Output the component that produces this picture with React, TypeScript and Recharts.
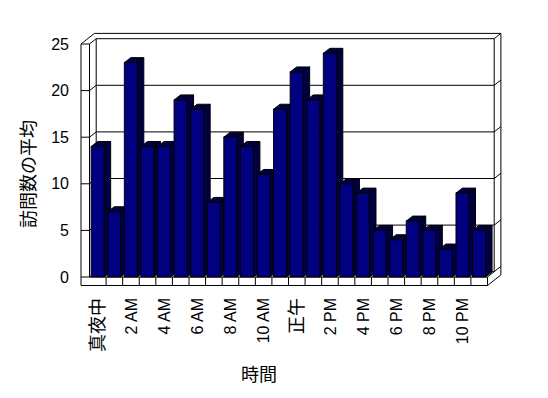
import React from "react";
import { Bar, BarChart, CartesianGrid, XAxis, YAxis } from "recharts";

// hour of day -> average visits
const hours = [
  "真夜中", "1 AM", "2 AM", "3 AM", "4 AM", "5 AM", "6 AM", "7 AM",
  "8 AM", "9 AM", "10 AM", "11 AM", "正午", "1 PM", "2 PM", "3 PM",
  "4 PM", "5 PM", "6 PM", "7 PM", "8 PM", "9 PM", "10 PM", "11 PM",
];
const visits = [14, 7, 23, 14, 14, 19, 18, 8, 15, 14, 11, 18, 22, 19, 24, 10, 9, 5, 4, 6, 5, 3, 9, 5];
const yTicks = [0, 5, 10, 15, 20, 25];

const data = hours.map((h, i) => ({ hour: h, visits: visits[i] }));

// layout of the front plane
const W = 548;
const H = 398;
const LEFT = 89.5;
const TOP = 44;
const RIGHT = 487.5;
const BOTTOM = 277;
const PW = RIGHT - LEFT;
const BAND = PW / hours.length;
const WDX = 6.7; // wall depth
const WDY = 5.3;
const SLAB = 8.5; // wall / floor thickness
const BDX = 6.5; // bar depth
const BDY = 5;

const FONT = '"Liberation Sans", "Noto Sans CJK JP", sans-serif';
const NAVY = "#000080";
const hasCJK = (s: string) => /[\u3000-\u9fff]/.test(s);

function Bar3D(props: any) {
  const { x, y, width: w, height: h } = props;
  if (w == null || h == null) return null;
  return (
    <g stroke="#000" strokeWidth={1}>
      <polygon
        points={`${x + w},${y} ${x + w + BDX},${y - BDY} ${x + w + BDX},${y + h - BDY} ${x + w},${y + h}`}
        fill="url(#dither)"
      />
      <polygon
        points={`${x},${y} ${x + BDX},${y - BDY} ${x + w + BDX},${y - BDY} ${x + w},${y}`}
        fill="url(#dither)"
      />
      <rect x={x} y={y} width={w} height={h} fill={NAVY} />
    </g>
  );
}

function GridLine(props: any) {
  const { x1, x2, y1, index } = props;
  const y = y1;
  return (
    <path
      key={`g${index}`}
      d={`M${x1},${y} L${x1 + WDX},${y - WDY} L${x2 + WDX},${y - WDY} L${x2 + 2 * WDX},${y - 2 * WDY}`}
      fill="none"
      stroke="#000"
      strokeWidth={1}
    />
  );
}

function HourTick(props: any) {
  const { x, y, payload, index } = props;
  const label = String(payload.value);
  const cjk = hasCJK(label);
  return (
    <g>
      {index > 0 && (
        <line x1={x - BAND / 2} y1={y} x2={x - BAND / 2} y2={y + SLAB} stroke="#000" />
      )}
      {index % 2 === 0 && (
        <text
          x={x}
          y={y + 21}
          transform={`rotate(-90 ${x} ${y + 21})`}
          textAnchor="end"
          dy="0.36em"
          fontSize={cjk ? 18 : 16}
          fontFamily={FONT}
          fill="#000"
        >
          {label}
        </text>
      )}
    </g>
  );
}

export default function App() {
  const line = { stroke: "#000", strokeWidth: 1 };
  return (
    <div style={{ position: "absolute", left: 0, top: 0, width: W, height: H, background: "#fff" }}>
      <BarChart
        width={W}
        height={H}
        data={data}
        margin={{ top: TOP, right: W - RIGHT, bottom: 0, left: 0 }}
        barCategoryGap="10%"
      >
        <defs>
          <pattern id="dither" width="2" height="2" patternUnits="userSpaceOnUse">
            <rect width="2" height="2" fill="#000" />
            <rect width="1" height="1" fill={NAVY} />
            <rect x="1" y="1" width="1" height="1" fill={NAVY} />
          </pattern>
        </defs>
        {/* back wall edges */}
        <g>
          <line x1={LEFT + WDX} y1={TOP - WDY} x2={LEFT + WDX} y2={BOTTOM - WDY} {...line} />
          <line x1={RIGHT + WDX} y1={TOP - WDY} x2={RIGHT + WDX} y2={BOTTOM - WDY} {...line} />
        </g>
        <CartesianGrid vertical={false} horizontal={(p: any) => <GridLine {...p} />} />
        <XAxis
          dataKey="hour"
          height={H - BOTTOM}
          interval={0}
          tickLine={false}
          tickSize={0}
          tickMargin={0}
          axisLine={{ stroke: "#000" }}
          tick={<HourTick />}
        />
        <YAxis
          width={LEFT}
          domain={[0, 25]}
          ticks={yTicks}
          tickSize={SLAB}
          tickMargin={12}
          axisLine={{ stroke: "#000" }}
          tickLine={{ stroke: "#000" }}
          tick={{ fill: "#000", fontSize: 16, fontFamily: FONT }}
        />
        <Bar dataKey="visits" isAnimationActive={false} shape={<Bar3D />} />
        {/* outer frame: left wall and floor slabs */}
        <g>
          <line x1={LEFT - SLAB} y1={TOP} x2={LEFT - SLAB} y2={BOTTOM + SLAB} {...line} />
          <line x1={LEFT - SLAB} y1={TOP} x2={LEFT - SLAB + 2 * WDX} y2={TOP - 2 * WDY} {...line} />
          <line x1={LEFT - SLAB + 2 * WDX} y1={TOP - 2 * WDY} x2={RIGHT + 2 * WDX} y2={TOP - 2 * WDY} {...line} />
          <line x1={RIGHT + 2 * WDX} y1={TOP - 2 * WDY} x2={RIGHT + 2 * WDX} y2={BOTTOM + SLAB - 2 * WDY} {...line} />
          <line x1={RIGHT + 2 * WDX} y1={BOTTOM + SLAB - 2 * WDY} x2={RIGHT} y2={BOTTOM + SLAB} {...line} />
          <line x1={LEFT - SLAB} y1={BOTTOM + SLAB} x2={RIGHT} y2={BOTTOM + SLAB} {...line} />
          <line x1={RIGHT} y1={BOTTOM} x2={RIGHT} y2={BOTTOM + SLAB} {...line} />
          <line x1={RIGHT} y1={BOTTOM} x2={RIGHT + WDX} y2={BOTTOM - WDY} {...line} />
        </g>
        <text
          x={28.5}
          y={174}
          transform="rotate(-90 28.5 174)"
          textAnchor="middle"
          dy="0.36em"
          fontSize={18}
          fontFamily={FONT}
          fill="#000"
        >
          訪問数の平均
        </text>
        <text x={259} y={375} textAnchor="middle" dy="0.36em" fontSize={18} fontFamily={FONT} fill="#000">
          時間
        </text>
      </BarChart>
    </div>
  );
}
